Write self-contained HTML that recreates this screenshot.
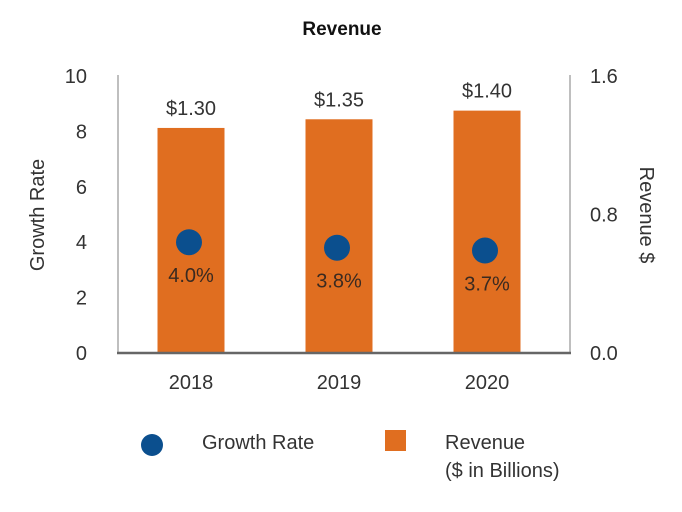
<!DOCTYPE html>
<html><head><meta charset="utf-8"><style>
body{margin:0;background:#fff;}
svg{display:block;font-family:"Liberation Sans",sans-serif;}
</style></head><body>
<svg id="chart" width="682" height="512">
<text x="342" y="35" text-anchor="middle" font-size="19" font-weight="bold" fill="#111">Revenue</text>
<text transform="translate(44,215) rotate(-90)" text-anchor="middle" font-size="20" fill="#333">Growth Rate</text>
<text transform="translate(640,215) rotate(90)" text-anchor="middle" font-size="20" fill="#333">Revenue $</text>
<g id="plot"></g>
<g>
<circle cx="152" cy="445" r="11" fill="#0b4f8e"/>
<text x="202" y="449" font-size="20" fill="#333">Growth Rate</text>
<rect x="385" y="430" width="21" height="21" fill="#e06e20"/>
<text x="445" y="449" font-size="20" fill="#333">Revenue</text>
<text x="445" y="477" font-size="20" fill="#333">($ in Billions)</text>
</g>
</svg>
<script>
const categories=["2018","2019","2020"];
const revenue=[1.30,1.35,1.40];
const revenueLabels=["$1.30","$1.35","$1.40"];
const growth=[4.0,3.8,3.7];
const growthLabels=["4.0%","3.8%","3.7%"];
const leftTicks=[0,2,4,6,8,10];
const rightTicks=["0.0","0.8","1.6"];
const rightTickVals=[0,0.8,1.6];

const NS="http://www.w3.org/2000/svg";
const g=document.getElementById('plot');
const X0=117,STEP=148,BW=67,Y0=353,H=277;
const yL=v=>Y0-v/10*H;
const yR=v=>Y0-v/1.6*H;
const xc=i=>X0+STEP*i+74;
function mk(t,a,txt){const e=document.createElementNS(NS,t);for(const k in a)e.setAttribute(k,a[k]);if(txt!=null)e.textContent=txt;g.appendChild(e);return e;}

let e=mk('line',{x1:118,y1:75,x2:118,y2:353,stroke:'#aaa','stroke-width':1.5});


e=mk('line',{x1:570,y1:75,x2:570,y2:353,stroke:'#aaa','stroke-width':1.5});



leftTicks.forEach(v=>{
 const t=mk('text',{x:87,y:yL(v)+7,'text-anchor':'end','font-size':20,fill:'#333'},String(v));
 
 
});
rightTickVals.forEach((v,i)=>{
 const t=mk('text',{x:590,y:yR(v)+7,'font-size':20,fill:'#333'},rightTicks[i]);
 
 
});
categories.forEach((c,i)=>{
 const b=mk('rect',{x:xc(i)-BW/2,y:yR(revenue[i]),width:BW,height:Y0-yR(revenue[i]),fill:'#e06e20'});
 
 
 const l=mk('text',{x:xc(i),y:yR(revenue[i])-13,'text-anchor':'middle','font-size':20,fill:'#333'},revenueLabels[i]);
 
 
 const d=mk('circle',{cx:xc(i)-2,cy:yL(growth[i]),r:13,fill:'#0b4f8e'});
 
 
 const gl=mk('text',{x:xc(i),y:yL(growth[i])+40,'text-anchor':'middle','font-size':20,fill:'#3a2a20'},growthLabels[i]);
 
 
 const cl=mk('text',{x:xc(i),y:389,'text-anchor':'middle','font-size':20,fill:'#333'},c);
 
 
});
e=mk('line',{x1:117,y1:353,x2:571,y2:353,stroke:'#666','stroke-width':2.5});


</script>
</body></html>
